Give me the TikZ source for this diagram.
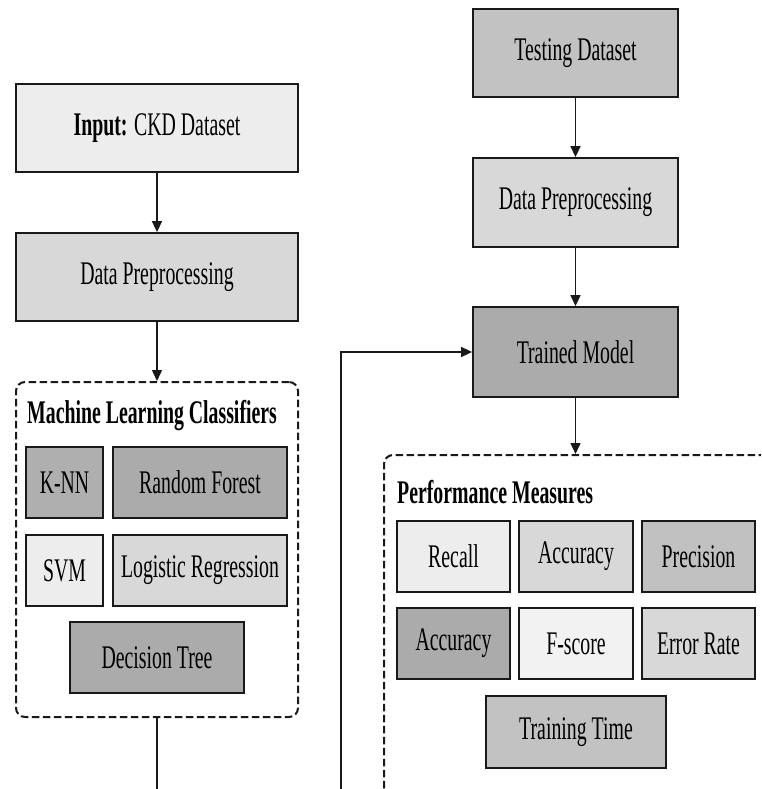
\documentclass[tikz,border=0pt]{standalone}
\usepackage{fontspec}
\setmainfont{Liberation Serif}[FakeStretch=0.6]
\usetikzlibrary{arrows.meta}

\definecolor{gA}{HTML}{EDEDED}
\definecolor{gB}{HTML}{D8D8D8}
\definecolor{gC}{HTML}{C2C2C2}
\definecolor{gD}{HTML}{ABABAB}

\tikzset{
  box/.style={draw=black!90, line width=1.8pt, inner sep=0pt, font=\fontsize{33}{38}\selectfont},
  groupbox/.style={draw=black!90, line width=2pt, dash pattern=on 7.5pt off 3.5pt, rounded corners=9pt, inner sep=0pt},
  flow/.style={draw=black!90, line width=1.5pt, -{Triangle[length=11pt,width=10pt]}},
  heading/.style={font=\fontsize{33}{38}\selectfont\bfseries, inner sep=0pt, anchor=west}
}

\begin{document}
\begin{tikzpicture}[x=1pt,y=1pt,yscale=-1,xscale=1]
  \useasboundingbox (0,0) rectangle (761,789);
  \clip (0,0) rectangle (761,789);

  % training branch
  \node[box, fill=gA, minimum width=282, minimum height=88] (input) at (157,128) {\textbf{Input:} CKD Dataset};
  \node[box, fill=gB, minimum width=282, minimum height=88] (prepL) at (157,277) {Data Preprocessing};

  % classifiers group
  \node[groupbox, minimum width=282, minimum height=335] (clf) at (157,549.5) {};
  \node[heading] (clfTitle) at (27,416) {Machine Learning Classifiers};
  \node[box, fill=gD!95!white, minimum width=77, minimum height=71] (knn) at (64.5,482.5) {K-NN};
  \node[box, fill=gD, minimum width=174, minimum height=71] (rf) at (200,482.5) {Random Forest};
  \node[box, fill=gA, minimum width=77, minimum height=71] (svm) at (64.5,570.5) {SVM};
  \node[box, fill=gB, minimum width=174, minimum height=71] (lr) at (200,570.5) {Logistic Regression};
  \node[box, fill=gD, minimum width=174, minimum height=71] (dt) at (157,657.5) {Decision Tree};

  % testing branch
  \node[box, fill=gC, minimum width=205, minimum height=88] (test) at (575.5,53) {Testing Dataset};
  \node[box, fill=gB, minimum width=205, minimum height=89] (prepR) at (575.5,202.5) {Data Preprocessing};
  \node[box, fill=gD, minimum width=205, minimum height=90] (model) at (575.5,352) {Trained Model};

  % performance group
  \node[groupbox, minimum width=391, minimum height=345] (perf) at (579.5,627.5) {};
  \node[heading] (perfTitle) at (397,492) {Performance Measures};
  \node[box, fill=gA, minimum width=113, minimum height=71] (recall) at (453.5,556.5) {Recall};
  \node[box, fill=gB, minimum width=114, minimum height=71] (accA) at (576,556.5) {Accuracy};
  \node[box, fill=gC!95!gD, minimum width=113, minimum height=71] (prec) at (698.5,556.5) {Precision};
  \node[box, fill=gD, minimum width=113, minimum height=71] (accB) at (453.5,643.5) {Accuracy};
  \node[box, fill=gA!70!white, minimum width=114, minimum height=71] (fscore) at (576,643.5) {F-score};
  \node[box, fill=gB, minimum width=113, minimum height=71] (err) at (698.5,643.5) {Error Rate};
  \node[box, fill=gC, minimum width=180, minimum height=72] (ttime) at (576,732) {Training Time};

  % connectors
  \draw[flow] (input) -- (prepL);
  \draw[flow] (prepL) -- (clf);
  \draw[flow] (test) -- (prepR);
  \draw[flow] (prepR) -- (model);
  \draw[flow] (model.south) -- (model.south |- perf.north);

  \coordinate (loop) at (341,820);
  \draw[flow] (clf.south) |- (loop) |- (model.west);
\end{tikzpicture}
\end{document}
